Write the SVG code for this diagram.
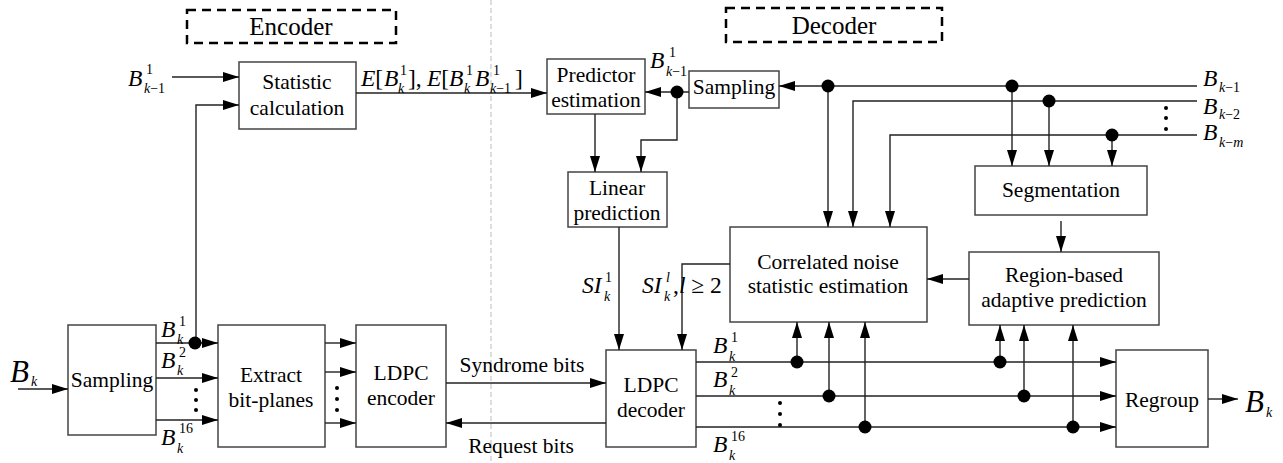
<svg xmlns="http://www.w3.org/2000/svg" width="1283" height="463" viewBox="0 0 1283 463" font-family="Liberation Serif, serif">
  <defs>
    <marker id="arr" markerUnits="userSpaceOnUse" markerWidth="17" markerHeight="11" refX="16" refY="5" orient="auto">
      <path d="M0,0 L16,5 L0,10 z" fill="#000"/>
    </marker>
    <style>
      svg text { font-family: 'Liberation Serif', serif !important; fill: #000; }
      .blk { fill: #fff; stroke: #444; stroke-width: 1.5; }
      .frame { fill: none; stroke: #000; stroke-width: 2.5; stroke-dasharray: 9 6; }
      .wire { fill: none; stroke: #222; stroke-width: 1.4; marker-end: url(#arr); }
      .jn { fill: #000; }
      .lbl { font-size: 21.5px; text-anchor: middle; }
      .ttl { font-size: 25px; text-anchor: middle; }
      .sym { font-size: 23.5px; font-style: italic; }
      .big { font-size: 31px; font-style: italic; }
      .idx { font-size: 14px; }
      .it { font-style: italic; }
      .up { font-style: normal; }
    </style>
  </defs>

  <!-- boundary between encoder and decoder sides -->
  <line x1="491" y1="0" x2="491" y2="463" stroke="#c8c8c8" stroke-width="1.2" stroke-dasharray="5 3"/>

  <!-- side titles -->
  <g id="encoder-title">
    <rect class="frame" x="187" y="10" width="209" height="33"/>
    <text class="ttl" x="291" y="35">Encoder</text>
  </g>
  <g id="decoder-title">
    <rect class="frame" x="726" y="8" width="216" height="34"/>
    <text class="ttl" x="834" y="34">Decoder</text>
  </g>

  <!-- encoder blocks -->
  <g id="statistic-calculation">
    <rect class="blk" x="239" y="62" width="117" height="67"/>
    <text class="lbl" x="297" y="89">Statistic</text>
    <text class="lbl" x="297" y="115">calculation</text>
  </g>
  <g id="sampling-enc">
    <rect class="blk" x="68" y="325" width="88" height="110"/>
    <text class="lbl" x="112" y="387">Sampling</text>
  </g>
  <g id="extract-bitplanes">
    <rect class="blk" x="218" y="325" width="107" height="122"/>
    <text class="lbl" x="271" y="382">Extract</text>
    <text class="lbl" x="271" y="407">bit-planes</text>
  </g>
  <g id="ldpc-encoder">
    <rect class="blk" x="356" y="325" width="90" height="122"/>
    <text class="lbl" x="401" y="380">LDPC</text>
    <text class="lbl" x="401" y="405">encoder</text>
  </g>

  <!-- decoder blocks -->
  <g id="predictor-estimation">
    <rect class="blk" x="547" y="59" width="98" height="55"/>
    <text class="lbl" x="596" y="82">Predictor</text>
    <text class="lbl" x="596" y="107">estimation</text>
  </g>
  <g id="sampling-dec">
    <rect class="blk" x="689" y="71" width="90" height="37"/>
    <text class="lbl" x="734" y="94">Sampling</text>
  </g>
  <g id="linear-prediction">
    <rect class="blk" x="568" y="172" width="99" height="55"/>
    <text class="lbl" x="617" y="195">Linear</text>
    <text class="lbl" x="617" y="220">prediction</text>
  </g>
  <g id="correlated-noise">
    <rect class="blk" x="730" y="227" width="197" height="95"/>
    <text class="lbl" x="828" y="269">Correlated noise</text>
    <text class="lbl" x="828" y="293">statistic estimation</text>
  </g>
  <g id="segmentation">
    <rect class="blk" x="975" y="166" width="172" height="49"/>
    <text class="lbl" x="1061" y="197">Segmentation</text>
  </g>
  <g id="region-prediction">
    <rect class="blk" x="969" y="252" width="190" height="73"/>
    <text class="lbl" x="1064" y="282">Region-based</text>
    <text class="lbl" x="1064" y="307">adaptive prediction</text>
  </g>
  <g id="ldpc-decoder">
    <rect class="blk" x="606" y="350" width="90" height="97"/>
    <text class="lbl" x="651" y="392">LDPC</text>
    <text class="lbl" x="651" y="417">decoder</text>
  </g>
  <g id="regroup">
    <rect class="blk" x="1116" y="350" width="92" height="97"/>
    <text class="lbl" x="1162" y="407">Regroup</text>
  </g>

  <!-- connectors -->
  <g id="connectors">
    <!-- encoder side -->
    <line class="wire" x1="172" y1="77" x2="239" y2="77"/>
    <polyline class="wire" points="196,343 196,105 239,105"/>
    <line class="wire" x1="18" y1="389" x2="68" y2="389"/>
    <line class="wire" x1="156" y1="343" x2="218" y2="343"/>
    <line class="wire" x1="156" y1="378" x2="218" y2="378"/>
    <line class="wire" x1="156" y1="420" x2="218" y2="420"/>
    <circle class="jn" cx="195" cy="343" r="6.5"/>
    <line class="wire" x1="325" y1="343" x2="356" y2="343"/>
    <line class="wire" x1="325" y1="372" x2="356" y2="372"/>
    <line class="wire" x1="325" y1="423" x2="356" y2="423"/>
    <circle class="jn" cx="196" cy="390" r="2"/>
    <circle class="jn" cx="196" cy="400" r="2"/>
    <circle class="jn" cx="196" cy="410" r="2"/>
    <circle class="jn" cx="337" cy="388" r="2"/>
    <circle class="jn" cx="337" cy="399" r="2"/>
    <circle class="jn" cx="337" cy="410" r="2"/>

    <!-- statistics to predictor -->
    <line class="wire" x1="356" y1="93" x2="547" y2="93"/>

    <!-- syndrome / request channel -->
    <line class="wire" x1="446" y1="383" x2="606" y2="383"/>
    <line class="wire" x1="606" y1="423" x2="446" y2="423"/>

    <!-- previous frames on the decoder side -->
    <line class="wire" x1="1197" y1="86" x2="779" y2="86"/>
    <polyline class="wire" points="1197,101 853,101 853,227"/>
    <polyline class="wire" points="1197,135 890,135 890,227"/>
    <line class="wire" x1="828" y1="86" x2="828" y2="227"/>
    <circle class="jn" cx="828" cy="86" r="6.5"/>
    <line class="wire" x1="1012" y1="86" x2="1012" y2="166"/>
    <circle class="jn" cx="1012" cy="86" r="6.5"/>
    <line class="wire" x1="1049" y1="101" x2="1049" y2="166"/>
    <circle class="jn" cx="1049" cy="101" r="6.5"/>
    <line class="wire" x1="1112" y1="135" x2="1112" y2="166"/>
    <circle class="jn" cx="1112" cy="135" r="6.5"/>
    <circle class="jn" cx="1166" cy="108" r="2"/>
    <circle class="jn" cx="1166" cy="118" r="2"/>
    <circle class="jn" cx="1166" cy="129" r="2"/>

    <!-- sampled reference into prediction -->
    <line class="wire" x1="689" y1="92" x2="645" y2="92"/>
    <polyline class="wire" points="677,92 677,140 641,140 641,172"/>
    <circle class="jn" cx="677" cy="92" r="6.5"/>
    <line class="wire" x1="595" y1="114" x2="595" y2="172"/>

    <!-- side information into LDPC decoder -->
    <line class="wire" x1="619" y1="227" x2="619" y2="350"/>
    <polyline class="wire" points="730,264 682,264 682,350"/>

    <!-- segmentation / region prediction -->
    <line class="wire" x1="1061" y1="221" x2="1061" y2="252"/>
    <line class="wire" x1="969" y1="279" x2="927" y2="279"/>

    <!-- decoded bit-planes -->
    <line class="wire" x1="696" y1="362" x2="1116" y2="362"/>
    <line class="wire" x1="696" y1="396" x2="1116" y2="396"/>
    <line class="wire" x1="696" y1="427" x2="1116" y2="427"/>
    <circle class="jn" cx="780" cy="403" r="2"/>
    <circle class="jn" cx="780" cy="414" r="2"/>
    <circle class="jn" cx="780" cy="425" r="2"/>

    <line class="wire" x1="797" y1="362" x2="797" y2="322"/>
    <circle class="jn" cx="797" cy="362" r="6.5"/>
    <line class="wire" x1="829" y1="396" x2="829" y2="322"/>
    <circle class="jn" cx="829" cy="396" r="6.5"/>
    <line class="wire" x1="865" y1="427" x2="865" y2="322"/>
    <circle class="jn" cx="865" cy="427" r="6.5"/>

    <line class="wire" x1="1000" y1="362" x2="1000" y2="325"/>
    <circle class="jn" cx="1000" cy="362" r="6.5"/>
    <line class="wire" x1="1024" y1="396" x2="1024" y2="325"/>
    <circle class="jn" cx="1024" cy="396" r="6.5"/>
    <line class="wire" x1="1073" y1="427" x2="1073" y2="325"/>
    <circle class="jn" cx="1073" cy="427" r="6.5"/>

    <line class="wire" x1="1208" y1="399" x2="1238" y2="399"/>
  </g>

  <!-- signal labels -->
  <g id="labels">
    <!-- B^1_{k-1} into statistic calculation -->
    <text class="sym" x="128" y="86">B</text>
    <text class="idx" x="146" y="74">1</text>
    <text class="idx" x="144" y="93"><tspan class="it">k</tspan>−1</text>

    <!-- E[B^1_k], E[B^1_k B^1_{k-1}] -->
    <text class="sym" x="361" y="86">E<tspan class="up">[</tspan></text>
    <text class="sym" x="384" y="86">B</text>
    <text class="idx" x="400" y="75">1</text>
    <text class="idx it" x="398" y="93">k</text>
    <text class="sym" x="408" y="86"><tspan class="up">],</tspan></text>
    <text class="sym" x="427" y="86">E<tspan class="up">[</tspan></text>
    <text class="sym" x="449" y="86">B</text>
    <text class="idx" x="466" y="75">1</text>
    <text class="idx it" x="464" y="93">k</text>
    <text class="sym" x="475" y="86">B</text>
    <text class="idx" x="493" y="75">1</text>
    <text class="idx" x="490" y="93"><tspan class="it">k</tspan>−1</text>
    <text class="sym" x="515" y="86"><tspan class="up">]</tspan></text>

    <!-- B^1_{k-1} after decoder sampling -->
    <text class="sym" x="650" y="68">B</text>
    <text class="idx" x="669" y="57">1</text>
    <text class="idx" x="666" y="76"><tspan class="it">k</tspan>−1</text>

    <!-- previous frames -->
    <text class="sym" x="1203" y="86">B</text>
    <text class="idx" x="1219" y="92"><tspan class="it">k</tspan>−1</text>
    <text class="sym" x="1203" y="114">B</text>
    <text class="idx" x="1219" y="119"><tspan class="it">k</tspan>−2</text>
    <text class="sym" x="1203" y="140">B</text>
    <text class="idx" x="1219" y="147"><tspan class="it">k</tspan>−<tspan class="it">m</tspan></text>

    <!-- current frame in / out -->
    <text class="big" x="10" y="382">B</text>
    <text class="idx it" x="31" y="386">k</text>
    <text class="big" x="1245" y="412">B</text>
    <text class="idx it" x="1266" y="417">k</text>

    <!-- encoder bit-plane labels -->
    <text class="sym" x="161" y="337">B</text>
    <text class="idx" x="179" y="326">1</text>
    <text class="idx it" x="177" y="344">k</text>
    <text class="sym" x="161" y="368">B</text>
    <text class="idx" x="179" y="357">2</text>
    <text class="idx it" x="177" y="375">k</text>
    <text class="sym" x="161" y="445">B</text>
    <text class="idx" x="179" y="433">16</text>
    <text class="idx it" x="177" y="453">k</text>

    <!-- side information labels -->
    <text class="sym" x="582" y="293">SI</text>
    <text class="idx" x="605" y="282">1</text>
    <text class="idx it" x="604" y="301">k</text>
    <text class="sym" x="642" y="293">SI</text>
    <text class="idx it" x="666" y="282">l</text>
    <text class="idx it" x="664" y="301">k</text>
    <text class="sym" x="673" y="293"><tspan class="up">,</tspan>l <tspan class="up">≥ 2</tspan></text>

    <!-- decoded bit-plane labels -->
    <text class="sym" x="713" y="353">B</text>
    <text class="idx" x="731" y="342">1</text>
    <text class="idx it" x="729" y="361">k</text>
    <text class="sym" x="713" y="387">B</text>
    <text class="idx" x="731" y="377">2</text>
    <text class="idx it" x="729" y="395">k</text>
    <text class="sym" x="713" y="452">B</text>
    <text class="idx" x="731" y="441">16</text>
    <text class="idx it" x="729" y="460">k</text>

    <!-- channel labels -->
    <text class="lbl" x="522" y="372">Syndrome bits</text>
    <text class="lbl" x="521" y="453">Request bits</text>
  </g>
</svg>
